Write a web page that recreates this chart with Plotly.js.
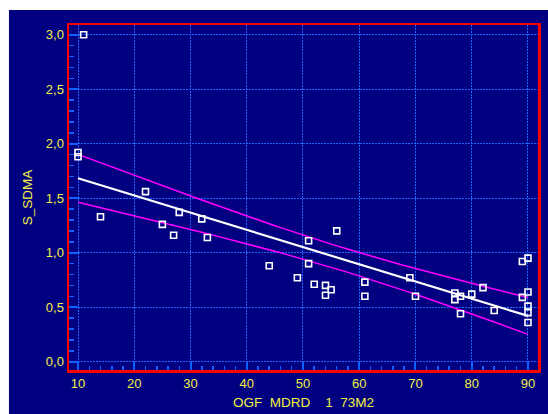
<!DOCTYPE html>
<html>
<head>
<meta charset="utf-8">
<script src="https://cdn.plot.ly/plotly-3.0.1.min.js"></script>
<style>html,body{margin:0;padding:0;background:#fff;}#chart{width:548px;height:414px;}</style>
</head>
<body>
<div id="chart"></div>
<script>
// Observed points: OGF MDRD (x) vs S_SDMA (y)
var ogfMdrd = [11, 10, 10, 22, 14, 25, 28, 27, 32, 33,
               44, 51, 51, 56, 49, 52, 54, 55, 54,
               61, 61, 69, 70, 77, 77, 78, 80, 82, 78, 84,
               89, 90, 89, 90, 90, 90, 90];
var sSdma  = [3.00, 1.92, 1.88, 1.56, 1.33, 1.26, 1.37, 1.16, 1.31, 1.14,
              0.88, 1.11, 0.90, 1.20, 0.77, 0.71, 0.70, 0.66, 0.61,
              0.73, 0.60, 0.77, 0.60, 0.63, 0.57, 0.60, 0.62, 0.68, 0.44, 0.47,
              0.92, 0.95, 0.59, 0.64, 0.51, 0.45, 0.36];
var xTicks = [10, 20, 30, 40, 50, 60, 70, 80, 90];
var yTicks = [0, 0.5, 1.0, 1.5, 2.0, 2.5, 3.0];
var fitRange = [10, 90];
var tCrit = 2.030; // 95% two-sided, df = n - 2

// Least-squares fit and 95% confidence band of the mean, from the data above
var n = ogfMdrd.length;
var mx = ogfMdrd.reduce(function(a,b){return a+b;},0)/n;
var my = sSdma.reduce(function(a,b){return a+b;},0)/n;
var sxx = 0, sxy = 0;
for (var i=0;i<n;i++){ sxx += (ogfMdrd[i]-mx)*(ogfMdrd[i]-mx); sxy += (ogfMdrd[i]-mx)*(sSdma[i]-my); }
var slope = sxy/sxx, icpt = my - slope*mx;
var sse = 0;
for (var i=0;i<n;i++){ var r = sSdma[i]-(icpt+slope*ogfMdrd[i]); sse += r*r; }
var s = Math.sqrt(sse/(n-2));
var fx = [], fy = [], up = [], lo = [];
for (var x=fitRange[0]; x<=fitRange[1]; x+=1){
  var yh = icpt+slope*x;
  var w = tCrit*s*Math.sqrt(1/n + (x-mx)*(x-mx)/sxx);
  fx.push(x); fy.push(yh); up.push(yh+w); lo.push(yh-w);
}

var yellow = '#f0f046';
var gridBlue = '#1e64ff';
var tickBlue = '#1060ff';

var traces = [
  {x: fx, y: up, mode: 'lines', line: {color: '#ff00ff', width: 1.5}, hoverinfo: 'skip'},
  {x: fx, y: lo, mode: 'lines', line: {color: '#ff00ff', width: 1.5}, hoverinfo: 'skip'},
  {x: fx, y: fy, mode: 'lines', line: {color: '#ffffff', width: 2.2}, hoverinfo: 'skip'},
  {x: ogfMdrd, y: sSdma, mode: 'markers', type: 'scatter',
   marker: {symbol: 'square-open', size: 6, color: '#ffffff', line: {width: 1.6, color: '#ffffff'}}}
];

var axisCommon = {
  showline: true, linecolor: '#ff0000', linewidth: 2.5, mirror: true,
  showgrid: true, gridcolor: gridBlue, gridwidth: 1, griddash: '2px,1px',
  zeroline: false,
  ticks: 'inside', ticklen: 9, tickwidth: 2, tickcolor: tickBlue,
  tickfont: {family: 'Liberation Sans, Arial, sans-serif', size: 13, color: yellow}
};

var layout = {
  width: 548, height: 414,
  margin: {l: 69, r: 10, t: 25, b: 44, pad: 0},
  paper_bgcolor: '#ffffff',
  plot_bgcolor: '#000080',
  showlegend: false,
  separators: ',.',
  font: {family: 'Liberation Sans, Arial, sans-serif', color: yellow},
  xaxis: Object.assign({}, axisCommon, {
    range: [8.4, 91.78], tickvals: xTicks,
    minor: {dtick: 2, tick0: 0, ticks: 'inside', ticklen: 4, tickwidth: 1.5, tickcolor: tickBlue, showgrid: false},
    title: {text: 'OGF\u00a0\u00a0MDRD\u00a0\u00a0\u00a0\u00a01\u00a0\u00a073M2', standoff: 8,
            font: {family: 'Liberation Sans, Arial, sans-serif', size: 13.5, color: yellow}}
  }),
  yaxis: Object.assign({}, axisCommon, {
    range: [-0.076, 3.089], tickvals: yTicks, tickformat: '.1f',
    minor: {dtick: 0.1, tick0: 0, ticks: 'inside', ticklen: 5, tickwidth: 1.5, tickcolor: tickBlue, showgrid: false},
    title: {text: 'S_SDMA', standoff: 10,
            font: {family: 'Liberation Sans, Arial, sans-serif', size: 13.5, color: yellow}}
  }),
  shapes: [
    {type: 'rect', xref: 'paper', yref: 'paper', layer: 'below',
     x0: -0.128, x1: 1.03, y0: -0.14, y1: 1.0435,
     fillcolor: '#000080', line: {width: 0}}
  ]
};

Plotly.newPlot('chart', traces, layout, {displayModeBar: false, staticPlot: true});
</script>
</body>
</html>
